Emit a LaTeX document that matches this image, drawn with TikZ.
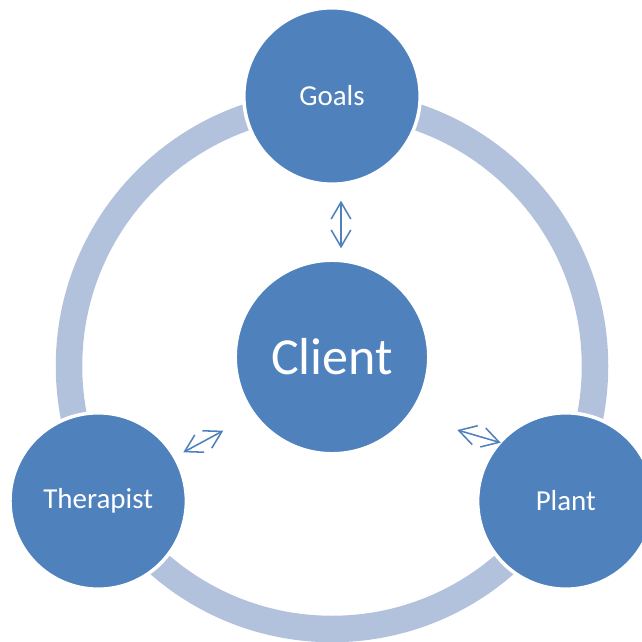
\documentclass[tikz,border=0pt]{standalone}
\usepackage{fontspec}
\setmainfont{Carlito}
\usepackage{xcolor}
\usetikzlibrary{arrows.meta}

\definecolor{circblue}{RGB}{79,129,189}
\definecolor{ringblue}{RGB}{178,193,220}

\tikzset{
  item/.style={circle,draw=white,line width=2.5pt,fill=circblue,text=white,inner sep=0pt,
    minimum size=4.41cm,font=\fontsize{20.6}{24}\selectfont},
  link/.style={draw=circblue,line width=1.1pt,
    {Straight Barb[length=12pt,width=14pt]}-{Straight Barb[length=12pt,width=14pt]}}
}

\begin{document}
\begin{tikzpicture}
        \useasboundingbox (-8.3,-6.9) rectangle (7.75,9.15);
        \clip (-8.3,-6.9) rectangle (7.75,9.15);
        % Outer ring
        \draw[ringblue,line width=18.85pt] (0,0) circle (6.575);
        % Circles
        \node[item] (Goals) at (90:6.75) {Goals};
        \node[item] (Therapist) at (210:6.75) {Therapist};
        \node[item] (Plant) at (330:6.75) {Plant};
        \node[item,minimum size=4.84cm,font=\fontsize{37}{44}\selectfont] (Client) at (0,0.225) {Client};
        % Arrow ends
        \coordinate (g1) at (0.225,4.1325);
        \coordinate (g2) at (0.225,2.9425);
        \coordinate (t1) at (-3.7175,-2.1575);
        \coordinate (t2) at (-2.7175,-1.6175);
        \coordinate (p1) at (3.1325,-1.6);
        \coordinate (p2) at (4.2175,-1.9175);
        % Links to the client
        \draw[link] (g1) -- (g2);
        \draw[link] (t1) -- (t2);
        \draw[link] (p1) -- (p2);
      \end{tikzpicture}
\end{document}
